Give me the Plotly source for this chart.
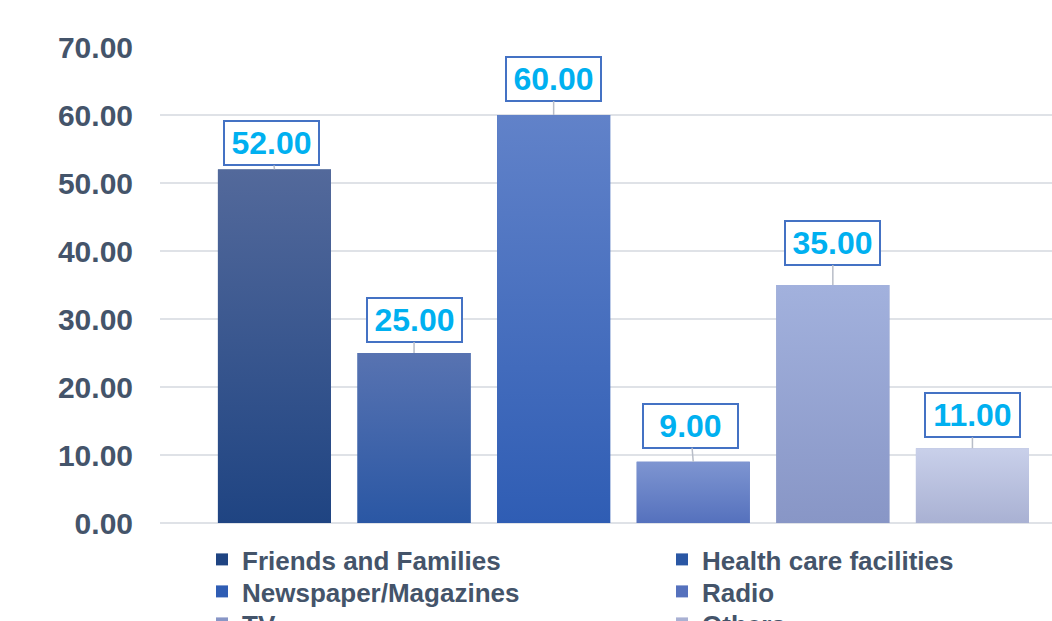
import plotly.graph_objects as go

# Survey: sources of information
categories = ["Friends and Families", "Health care facilities", "Newspaper/Magazines",
              "Radio", "TV", "Others"]
values = [52.00, 25.00, 60.00, 9.00, 35.00, 11.00]
y_ticks = [0, 10, 20, 30, 40, 50, 60, 70]

# Styling (gradient top / bottom colours per series, label offsets in px)
top_colors = ["#53699b", "#5873b1", "#6182c9", "#7e95d1", "#a2b1dd", "#c9d0ea"]
bottom_colors = ["#1f4482", "#2a57a4", "#2f5db4", "#5571bd", "#8896c6", "#a9b1d3"]
label_dx = [-3, 0, 0, -3, 0, 0]
label_dy = [-26, -33, -36, -36, -42, -33]

BAR_W = 0.81
TEXT = "#44546a"
FONT = "Liberation Sans, Arial, sans-serif"
PLOT_H = 621 - 47 - 98

# two-column legend: one legend box per entry, laid out row by row
legend_cols_px = [202, 662]
legend_row0_px = 536      # top of the first legend row, page pixels
legend_row_step = 32

fig = go.Figure()

legend_layout = {}
for i, (name, v) in enumerate(zip(categories, values)):
    key = "legend" if i == 0 else f"legend{i + 1}"
    col, row = i % 2, i // 2
    top_px = legend_row0_px + row * legend_row_step
    legend_layout[key] = dict(
        x=(legend_cols_px[col] - 160) / 892, xanchor="left",
        y=-(top_px - 523) / PLOT_H, yanchor="top",
        orientation="v", bgcolor="rgba(0,0,0,0)", borderwidth=0,
        font=dict(family=FONT, size=26, color=TEXT, weight="bold"),
        itemclick=False, itemdoubleclick=False,
    )
    # base bar (also provides the legend swatch)
    fig.add_trace(go.Bar(
        x=[i], y=[v], name=name, width=BAR_W,
        marker=dict(color=bottom_colors[i], line=dict(width=0)),
        legend=key, hoverinfo="skip",
    ))

for i, v in enumerate(values):
    # vertical gradient drawn over each bar
    x0, x1 = i - BAR_W / 2, i + BAR_W / 2
    fig.add_trace(go.Scatter(
        x=[x0, x1, x1, x0, x0], y=[0, 0, v, v, 0],
        mode="none", fill="toself",
        fillgradient=dict(type="vertical",
                          colorscale=[[0, bottom_colors[i]], [1, top_colors[i]]]),
        showlegend=False, hoverinfo="skip",
    ))

for i, v in enumerate(values):
    fig.add_annotation(
        x=i, y=v, xref="x", yref="y",
        text=f"{v:.2f}",
        showarrow=True, arrowhead=0, arrowwidth=1.5, arrowcolor="#b8bdc8",
        ax=label_dx[i], ay=label_dy[i], standoff=0,
        width=93, height=42, borderpad=0,
        bgcolor="white", bordercolor="#4472c4", borderwidth=2,
        font=dict(family=FONT, size=32, color="#00b0f0", weight="bold"),
    )

fig.update_layout(
    width=1052, height=621,
    margin=dict(l=160, r=0, t=47, b=98, autoexpand=False),
    paper_bgcolor="white", plot_bgcolor="white",
    barmode="overlay",
    showlegend=True,
    xaxis=dict(range=[-0.82, 5.57], showgrid=False, zeroline=False,
               showticklabels=False, ticks="", showline=False, fixedrange=True),
    yaxis=dict(range=[0, 70], tickvals=y_ticks, tickformat=".2f",
               showgrid=True, gridcolor="#dfe2e7", gridwidth=2,
               zeroline=True, zerolinecolor="#dfe2e7", zerolinewidth=2,
               showline=False, ticks="", ticklabelstandoff=26,
               tickfont=dict(family=FONT, size=30, color=TEXT, weight="bold"),
               fixedrange=True),
    **legend_layout,
)

fig.write_html("out.html")
